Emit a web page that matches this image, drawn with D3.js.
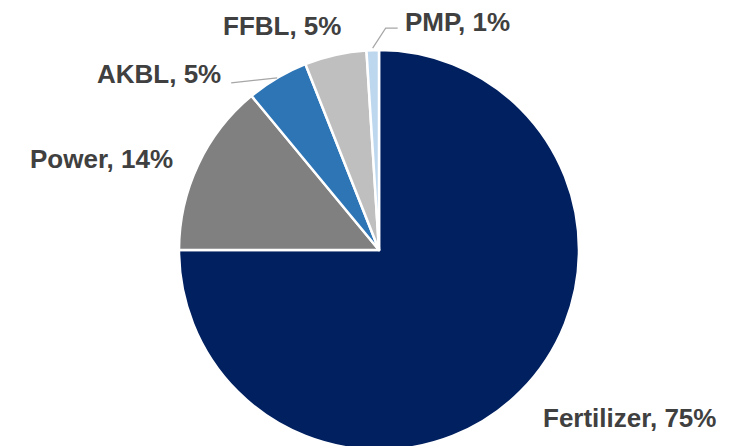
<!DOCTYPE html>
<html><head><meta charset="utf-8">
<script src="https://cdn.jsdelivr.net/npm/d3@7"></script>
<style>html,body{margin:0;padding:0;background:#fff;overflow:hidden}</style>
</head><body>
<svg id="chart" width="746" height="446"></svg>
<script>
const categories = ["Fertilizer", "Power", "AKBL", "FFBL", "PMP"];
const values = [75, 14, 5, 5, 1];
const labels = ["Fertilizer, 75%", "Power, 14%", "AKBL, 5%", "FFBL, 5%", "PMP, 1%"];
const colors = ["#002060", "#808080", "#2E75B6", "#BFBFBF", "#BDD7EE"];

// layout (label anchor offsets from pie center, text-anchor)
const labelLayout = [
  {dx: 164, dy: 177, anchor: "start"},
  {dx: -349, dy: -82, anchor: "start"},
  {dx: -282, dy: -167, anchor: "start"},
  {dx: -156, dy: -215, anchor: "start"},
  {dx: 26, dy: -219, anchor: "start"}
];

const svg = d3.select("#chart");
const cx = 379, cy = 250, r = 200;
const g = svg.append("g").attr("transform", `translate(${cx},${cy})`);

const data = categories.map((c, i) => ({cat: c, value: values[i], label: labels[i], color: colors[i]}));
const pie = d3.pie().value(d => d.value).sort(null);
const arc = d3.arc().innerRadius(0).outerRadius(r);
const arcs = pie(data);

g.selectAll("path.slice").data(arcs).enter().append("path")
  .attr("class", "slice")
  .attr("d", arc)
  .attr("fill", d => d.data.color)
  .attr("stroke", "#fff")
  .attr("stroke-width", 2.5)
  .attr("stroke-linejoin", "round");

// leader lines
function edgePoint(d, rr) {
  const a = (d.startAngle + d.endAngle) / 2;
  return [rr * Math.sin(a), -rr * Math.cos(a)];
}
const line = d3.line();
// AKBL
{
  const d = arcs[2];
  const p = edgePoint(d, r);
  g.append("path").attr("d", line([p, [p[0] - 46, p[1] + 5]]))
    .attr("fill", "none").attr("stroke", "#A6A6A6").attr("stroke-width", 1.2);
}
// PMP
{
  const d = arcs[4];
  const p = edgePoint(d, r + 2);
  g.append("path").attr("d", line([p, [p[0] + 13, p[1] - 20], [p[0] + 25, p[1] - 20]]))
    .attr("fill", "none").attr("stroke", "#A6A6A6").attr("stroke-width", 1.2);
}

g.selectAll("text.lbl").data(arcs).enter().append("text")
  .attr("class", "lbl")
  .attr("x", (d, i) => labelLayout[i].dx)
  .attr("y", (d, i) => labelLayout[i].dy)
  .attr("text-anchor", (d, i) => labelLayout[i].anchor)
  .attr("font-family", "Liberation Sans, Arial, sans-serif")
  .attr("font-weight", "bold")
  .attr("font-size", "26px")
  .attr("fill", "#404040")
  .text(d => d.data.label);
</script>
</body></html>
